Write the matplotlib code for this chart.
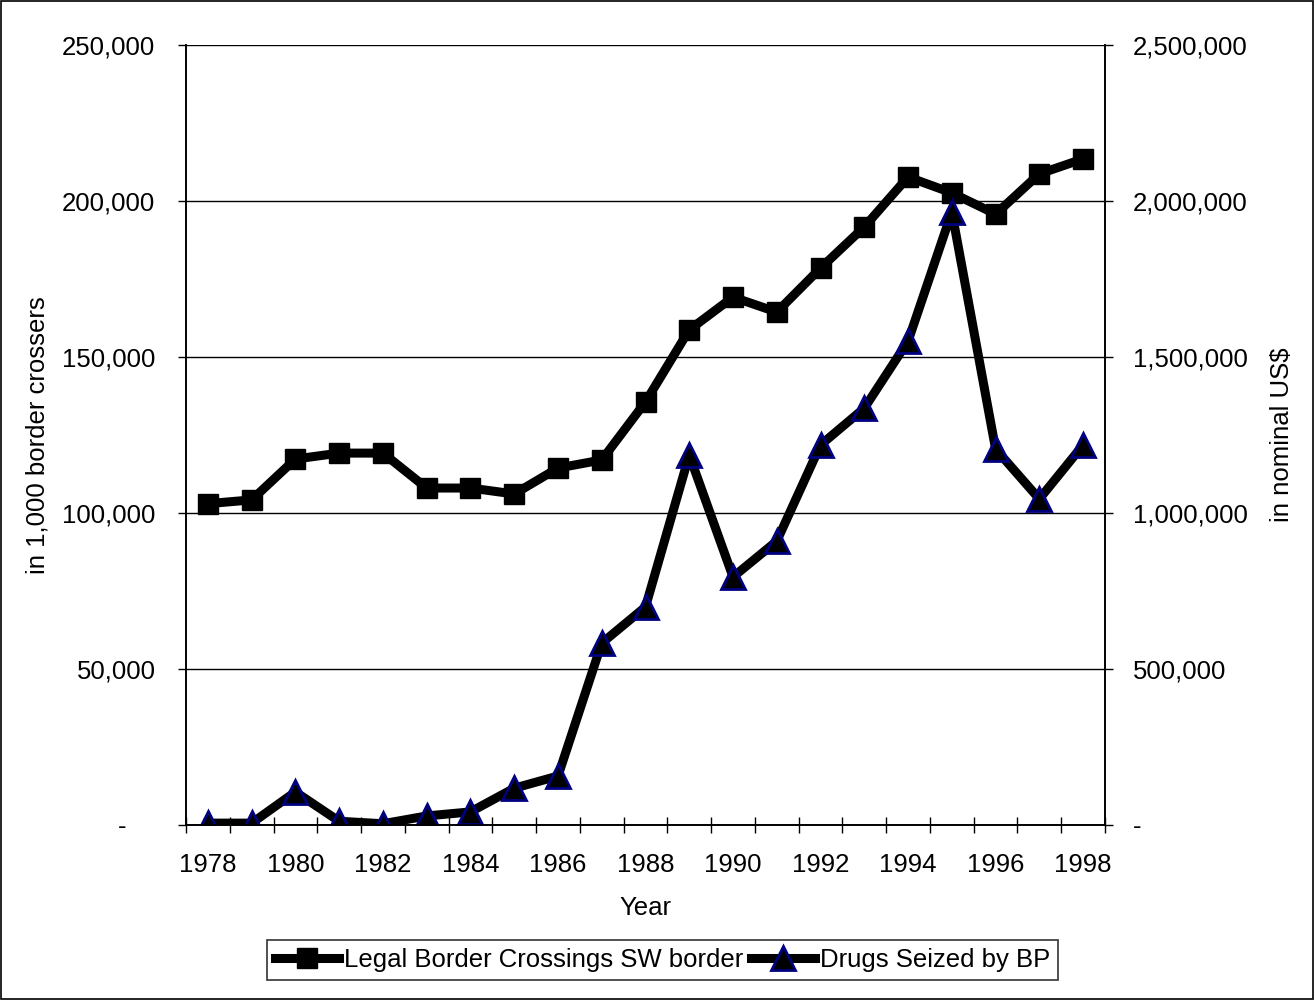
import numpy as np
import matplotlib
matplotlib.use("Agg")
import matplotlib.pyplot as plt
from matplotlib.ticker import FuncFormatter
from matplotlib.patches import Rectangle

plt.rcParams['font.family'] = ['Liberation Sans', 'DejaVu Sans']
plt.rcParams['font.size'] = 18.5

# data
years = list(range(1978, 1999))
crossings = [103000, 104200, 117300, 119200, 119200, 108000, 108000, 106100,
             114400, 117000, 135600, 158700, 169200, 164400, 178500, 191700,
             207700, 202600, 195800, 208700, 213500]   # in 1,000 border crossers
drugs = [6000, 6000, 106000, 12000, 4000, 29000, 42000, 118000, 157000,
         583000, 699000, 1186000, 795000, 910000, 1218000, 1336000,
         1551000, 1965000, 1205000, 1045000, 1218000]  # nominal US$

x = np.arange(len(years))

fig = plt.figure(figsize=(13.15, 10), dpi=100)
ax = fig.add_axes([186/1315, 1 - 825/1000, (1105 - 186)/1315, (825 - 45)/1000])
ax2 = ax.twinx()

ax.plot(x, crossings, color='black', lw=6.5, marker='s', ms=14,
        mfc='black', mec='black', label='Legal Border Crossings SW border')
ax2.plot(x, drugs, color='black', lw=6.5, marker='^', ms=17,
         mfc='black', mec='#000080', mew=2, label='Drugs Seized by BP')

ax.set_xlim(-0.5, len(years) - 0.5)
ax.set_ylim(0, 250000)
ax2.set_ylim(0, 2500000)
ax.set_yticks(np.arange(0, 250001, 50000))
ax2.set_yticks(np.arange(0, 2500001, 500000))


def fmt_left(v, pos):
    return '-    ' if v == 0 else f'{int(v):,}'


def fmt_right(v, pos):
    return '-' if v == 0 else f'{int(v):,}'


ax.yaxis.set_major_formatter(FuncFormatter(fmt_left))
ax2.yaxis.set_major_formatter(FuncFormatter(fmt_right))

# category style x axis: ticks on boundaries, labels every second year
ax.set_xticks(x[::2])
ax.set_xticklabels([str(y) for y in years[::2]])
ax.set_xticks(np.arange(-0.5, len(years)), minor=True)
ax.tick_params(axis='x', which='major', length=0, pad=20)
ax.tick_params(axis='x', which='minor', direction='inout', length=12, width=1)
ax.tick_params(axis='y', length=6, width=1, pad=16)
ax2.tick_params(axis='y', length=6, width=1, pad=14)

ax.grid(axis='y', color='black', lw=1)
ax.set_axisbelow(True)
for a in (ax, ax2):
    a.spines['top'].set_visible(False)
    for s in ('left', 'right', 'bottom'):
        a.spines[s].set_linewidth(1.2)

ax.set_xlabel('Year', labelpad=14)
ax.set_ylabel('in 1,000 border crossers', labelpad=9)
ax2.set_ylabel('in nominal US$', labelpad=16)

h1, l1 = ax.get_legend_handles_labels()
h2, l2 = ax2.get_legend_handles_labels()
leg = fig.legend(h1 + h2, l1 + l2, loc='center', bbox_to_anchor=(0.504, 0.04),
                 ncol=2, frameon=True, fancybox=False, edgecolor='black',
                 handlelength=2.5, handletextpad=0.2, columnspacing=0.3,
                 borderpad=0.3, borderaxespad=0)
leg.get_frame().set_linewidth(1.2)

fig.patches.append(Rectangle((0.0008, 0.001), 0.998, 0.998, transform=fig.transFigure,
                             fill=False, edgecolor='black', lw=1.2))

fig.savefig('out.png', dpi=100)
